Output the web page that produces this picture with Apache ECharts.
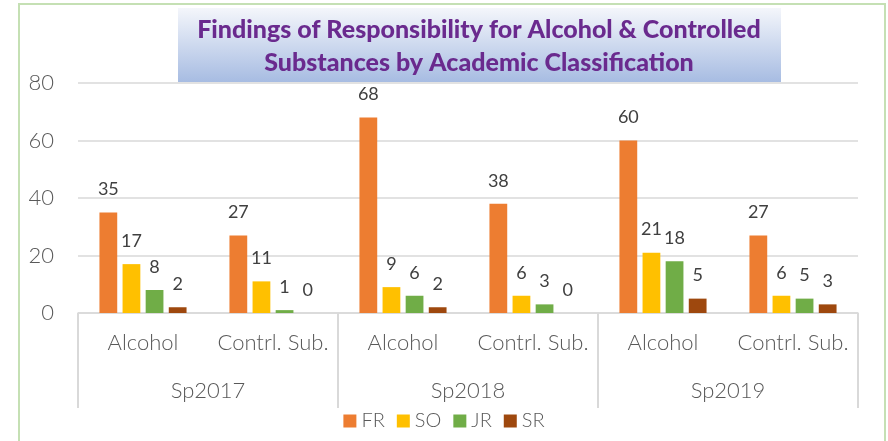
<!DOCTYPE html>
<html lang="en">
<head>
<meta charset="UTF-8">
<title>Findings of Responsibility</title>
<style>
  html, body { margin: 0; padding: 0; background: #fff; }
  #main { width: 888px; height: 441px; }
</style>
</head>
<body>
<div id="main"></div>
<script src="https://cdn.jsdelivr.net/npm/echarts@6/dist/echarts.min.js"></script>
<script>
// categories
var terms = ['Sp2017', 'Sp2018', 'Sp2019'];
var kinds = ['Alcohol', 'Contrl. Sub.', 'Alcohol', 'Contrl. Sub.', 'Alcohol', 'Contrl. Sub.'];
var yTicks = [0, 20, 40, 60, 80];

// values per class, in order of kinds
var fr = [35, 27, 68, 38, 60, 27];
var so = [17, 11, 9, 6, 21, 6];
var jr = [8, 1, 6, 3, 18, 5];
var sr = [2, 0, 2, 0, 5, 3];

var names = ['FR', 'SO', 'JR', 'SR'];
var colors = ['#ed7d31', '#ffc000', '#70ad47', '#9e480e'];
var values = [fr, so, jr, sr];

var labelFont = 'Lato';
var myChart = echarts.init(document.getElementById('main'));

var series = names.map(function (n, i) {
    return {
        name: n,
        type: 'bar',
        xAxisIndex: 0,
        data: values[i],
        itemStyle: { color: colors[i] },
        barGap: '30%',
        barCategoryGap: '33%',
        label: {
            show: true,
            position: 'top',
            distance: 14,
            color: '#404040',
            fontSize: 18,
            fontFamily: labelFont
        }
    };
});

myChart.setOption({
    animation: false,
    graphic: [
        {
            type: 'rect',
            shape: { x: 19, y: 4, width: 866, height: 460 },
            style: { fill: 'none', stroke: '#c5e0b4', lineWidth: 2 },
            z: 0
        },
        {
            type: 'rect',
            shape: { x: 178, y: 8, width: 603, height: 74 },
            style: {
                fill: new echarts.graphic.LinearGradient(0, 0, 0, 1, [
                    { offset: 0, color: '#f4f6fb' },
                    { offset: 1, color: '#a7bce2' }
                ])
            },
            z: 1
        },
        {
            type: 'text',
            x: 479, y: 13,
            style: {
                text: 'Findings of Responsibility for Alcohol & Controlled\nSubstances by Academic Classification',
                fill: '#6a2a8e',
                font: '900 25px Lato',
                align: 'center',
                lineHeight: 33
            },
            z: 2
        }
    ],
    legend: {
        bottom: 5,
        left: 'center',
        itemWidth: 13,
        itemHeight: 13,
        itemGap: 12,
        icon: 'rect',
        textStyle: { color: '#595959', fontSize: 20, fontFamily: labelFont, fontWeight: 300 },
        data: names
    },
    grid: { left: 78, right: 30, top: 83, bottom: 128 },
    xAxis: [
        {
            type: 'category',
            data: kinds,
            position: 'bottom',
            axisLine: { lineStyle: { color: '#d9d9d9', width: 1.5 } },
            axisTick: { show: false },
            axisLabel: { color: '#595959', fontSize: 22, fontFamily: labelFont, fontWeight: 300, margin: 19, interval: 0 }
        },
        {
            type: 'category',
            data: terms,
            position: 'bottom',
            axisLine: { show: false },
            axisTick: { show: true, length: 95, lineStyle: { color: '#d9d9d9', width: 2 } },
            axisLabel: { color: '#595959', fontSize: 22, fontFamily: labelFont, fontWeight: 300, margin: 67 }
        }
    ],
    yAxis: {
        type: 'value',
        min: yTicks[0],
        max: yTicks[yTicks.length - 1],
        interval: 20,
        axisLine: { show: false },
        axisTick: { show: false },
        splitLine: { lineStyle: { color: '#d9d9d9', width: 1.5 } },
        axisLabel: { color: '#595959', fontSize: 22, fontFamily: labelFont, fontWeight: 300, margin: 24 }
    },
    series: series
});
</script>
</body>
</html>
